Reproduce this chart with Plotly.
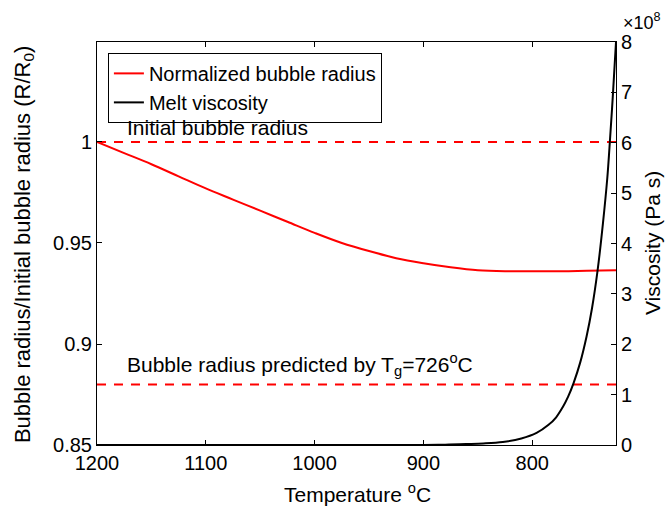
import plotly.graph_objects as go

# Normalized bubble radius vs temperature
temp_r = [1200, 1175, 1150, 1125, 1100, 1075, 1050, 1025, 1000, 975, 950, 925, 900, 875, 850, 825, 800, 775, 750, 723]
radius = [1.000, 0.9945, 0.989, 0.983, 0.977, 0.9715, 0.966, 0.9605, 0.955, 0.950, 0.946, 0.9425, 0.940, 0.938, 0.9365, 0.936, 0.936, 0.936, 0.9362, 0.9365]

# Melt viscosity (x1e8 Pa s) vs temperature
temp_v = [1200, 1100, 1000, 950, 900, 880, 860, 845, 827, 810, 796, 785, 778, 772, 767, 762, 756, 750, 745, 740, 735, 731, 729, 726, 723]
viscosity = [0.0, 0.0, 0.0, 0.0005, 0.002, 0.006, 0.018, 0.03, 0.06, 0.13, 0.24, 0.40, 0.55, 0.75, 0.96, 1.23, 1.63, 2.16, 2.72, 3.45, 4.4, 5.3, 5.9, 6.9, 8.0]

initial_radius = 1.0
tg_radius = 0.88

x_ticks = [1200, 1100, 1000, 900, 800]
y_ticks = [0.85, 0.9, 0.95, 1]
y_tick_text = ["0.85", "0.9", "0.95", "1"]
y2_ticks = [0, 1, 2, 3, 4, 5, 6, 7, 8]

FONT = "Liberation Sans, Arial, Helvetica, sans-serif"
X_RANGE = [1200, 723]

fig = go.Figure()
fig.add_trace(go.Scatter(x=temp_r, y=radius, mode="lines", name="Normalized bubble radius",
                         line=dict(color="#ff0000", width=2), line_shape="spline"))
fig.add_trace(go.Scatter(x=temp_v, y=viscosity, mode="lines", name="Melt viscosity",
                         line=dict(color="black", width=2), line_shape="spline", yaxis="y2"))
fig.add_trace(go.Scatter(x=X_RANGE, y=[initial_radius, initial_radius], mode="lines", showlegend=False,
                         line=dict(color="#ff0000", width=2, dash="9px,8px")))
fig.add_trace(go.Scatter(x=X_RANGE, y=[tg_radius, tg_radius], mode="lines", showlegend=False,
                         line=dict(color="#ff0000", width=2, dash="9px,8px")))

axis_common = dict(showline=True, linecolor="black", linewidth=1, ticks="inside", ticklen=5,
                   tickcolor="black", showgrid=False, zeroline=False,
                   tickfont=dict(family=FONT, size=20, color="black"))

fig.update_layout(
    width=667, height=508,
    margin=dict(l=97, r=51, t=42, b=63),
    paper_bgcolor="white", plot_bgcolor="white",
    font=dict(family=FONT, size=20, color="black"),
    xaxis=dict(range=X_RANGE, tickvals=x_ticks, mirror="ticks", **axis_common),
    yaxis=dict(range=[0.85, 1.0495], tickvals=y_ticks, ticktext=y_tick_text, **axis_common),
    yaxis2=dict(range=[0, 8], tickvals=y2_ticks, overlaying="y", side="right", **axis_common),
    legend=dict(x=0.021, y=0.973, xanchor="left", yanchor="top", bgcolor="white",
                bordercolor="black", borderwidth=1, font=dict(family=FONT, size=20, color="black"),
                tracegroupgap=0, itemwidth=30),
    showlegend=True,
)

annotations = [
    dict(text="Initial bubble radius", x=0.054, y=(445 - 127) / 403, xanchor="left", yanchor="middle"),
    dict(text="Bubble radius predicted by T<sub>g</sub>=726<sup>o</sup>C", x=0.054, y=(445 - 364) / 403,
         xanchor="left", yanchor="middle"),
    dict(text="Temperature <sup>o</sup>C", x=(357 - 97) / 519, y=(445 - 493) / 403, xanchor="center",
         yanchor="middle", font=dict(family=FONT, size=21, color="black")),
    dict(text="Bubble radius/Initial bubble radius (R/R<sub>0</sub>)", x=(24 - 97) / 519, y=0.496,
         textangle=-90, xanchor="center", yanchor="middle", font=dict(family=FONT, size=22, color="black")),
    dict(text="Viscosity (Pa s)", x=(652 - 97) / 519, y=0.501, textangle=-90, xanchor="center",
         yanchor="middle", font=dict(family=FONT, size=21, color="black")),
    dict(text="×10<sup>8</sup>", x=(621 - 97) / 519, y=(445 - 22) / 403, xanchor="left", yanchor="middle",
         font=dict(family=FONT, size=18, color="black")),
]
for a in annotations:
    a.setdefault("font", dict(family=FONT, size=21, color="black"))
    fig.add_annotation(xref="paper", yref="paper", showarrow=False, **a)

fig.write_html("out.html")
